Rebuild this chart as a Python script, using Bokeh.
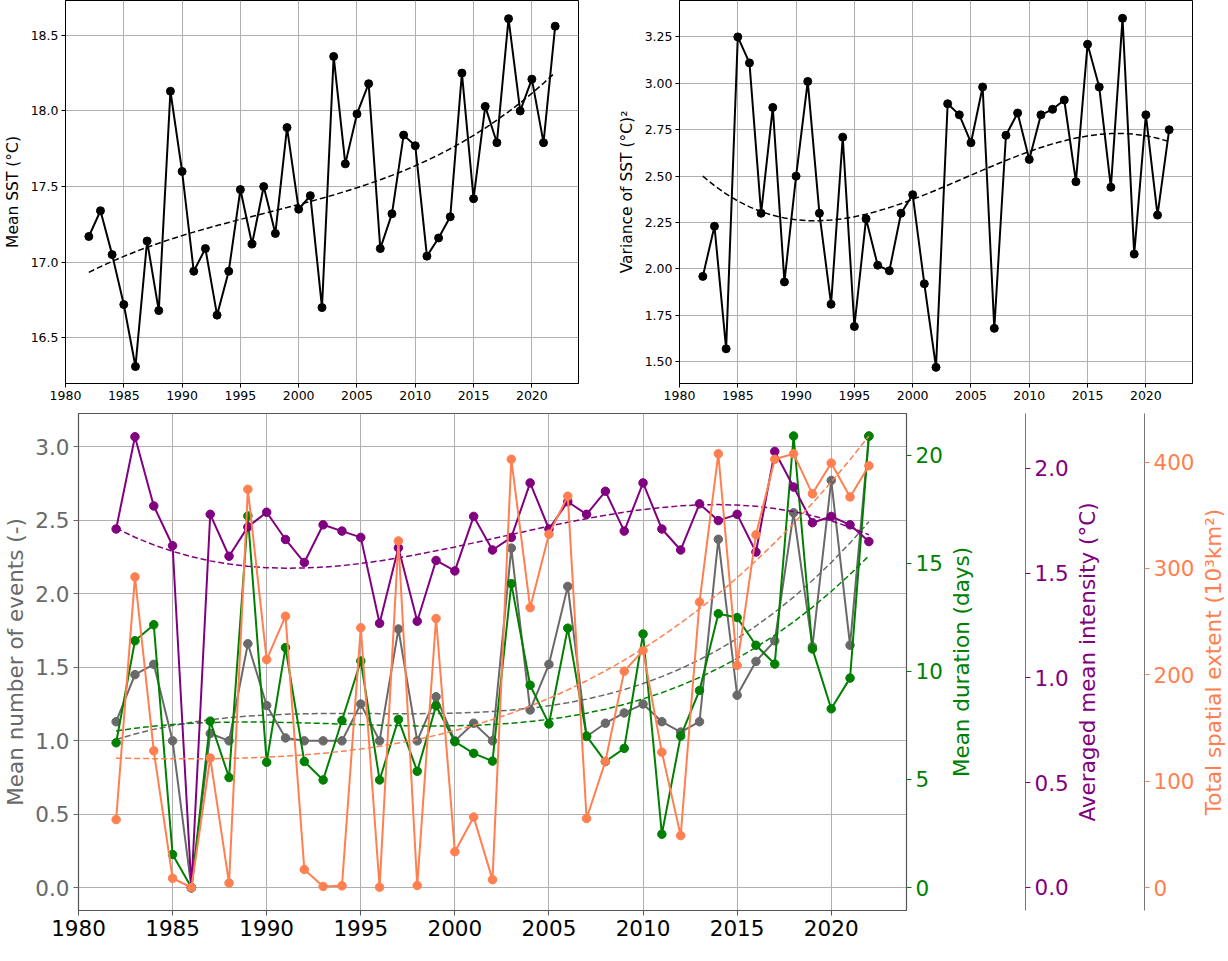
import numpy as np
from bokeh.plotting import figure
from bokeh.models import Range1d, LinearAxis, FixedTicker, PrintfTickFormatter
from bokeh.layouts import column, row
from bokeh.embed import file_html
from bokeh.resources import INLINE

years = list(range(1982, 2023))

mean_sst = [17.17, 17.34, 17.05, 16.72, 16.31, 17.14, 16.68, 18.13, 17.60, 16.94,
            17.09, 16.65, 16.94, 17.48, 17.12, 17.50, 17.19, 17.89, 17.35, 17.44,
            16.70, 18.36, 17.65, 17.98, 18.18, 17.09, 17.32, 17.84, 17.77, 17.04,
            17.16, 17.30, 18.25, 17.42, 18.03, 17.79, 18.61, 18.00, 18.21, 17.79, 18.56]

var_sst = [1.96, 2.23, 1.57, 3.25, 3.11, 2.30, 2.87, 1.93, 2.50, 3.01,
           2.30, 1.81, 2.71, 1.69, 2.27, 2.02, 1.99, 2.30, 2.40, 1.92,
           1.47, 2.89, 2.83, 2.68, 2.98, 1.68, 2.72, 2.84, 2.59, 2.83,
           2.86, 2.91, 2.47, 3.21, 2.98, 2.44, 3.35, 2.08, 2.83, 2.29, 2.75]

n_events = [1.13, 1.45, 1.52, 1.00, 0.00, 1.05, 1.00, 1.66, 1.24, 1.02,
            1.00, 1.00, 1.00, 1.25, 1.00, 1.76, 1.00, 1.30, 1.00, 1.12,
            1.00, 2.31, 1.21, 1.52, 2.05, 1.03, 1.12, 1.19, 1.25, 1.13,
            1.06, 1.13, 2.37, 1.31, 1.54, 1.68, 2.55, 1.64, 2.77, 1.65, 3.07]

duration = [6.70, 11.42, 12.16, 1.53, 0.00, 7.70, 5.09, 17.19, 5.80, 11.10,
            5.83, 4.98, 7.73, 10.48, 4.98, 7.78, 5.38, 8.41, 6.75, 6.21,
            5.85, 14.06, 9.36, 7.57, 12.00, 7.01, 5.83, 6.44, 11.73, 2.47,
            7.01, 9.12, 12.67, 12.49, 11.21, 10.34, 20.89, 11.04, 8.27, 9.69, 20.89]

intensity = [1.71, 2.15, 1.82, 1.63, 0.00, 1.78, 1.58, 1.72, 1.79, 1.66,
             1.55, 1.73, 1.70, 1.67, 1.26, 1.62, 1.27, 1.56, 1.51, 1.77,
             1.61, 1.67, 1.93, 1.71, 1.84, 1.78, 1.89, 1.70, 1.93, 1.71,
             1.61, 1.83, 1.75, 1.78, 1.60, 2.08, 1.91, 1.74, 1.77, 1.73, 1.65]

extent = [63.9, 292.0, 128.5, 8.7, 0.0, 121.8, 4.2, 374.3, 214.3, 255.1,
          17.0, 1.0, 1.6, 244.2, 0.3, 325.8, 1.9, 252.9, 33.7, 66.2,
          7.4, 402.6, 263.1, 332.2, 367.9, 64.9, 118.6, 203.4, 222.7, 127.2,
          48.8, 268.3, 407.7, 208.8, 331.6, 402.6, 407.7, 370.1, 399.0, 367.2, 396.5]

year_ticks = [1980, 1985, 1990, 1995, 2000, 2005, 2010, 2015, 2020]
events_ticks = [0.0, 0.5, 1.0, 1.5, 2.0, 2.5, 3.0]
duration_ticks = [0, 5, 10, 15, 20]
intensity_ticks = [0.0, 0.5, 1.0, 1.5, 2.0]
extent_ticks = [0, 100, 200, 300, 400]


def trend(vals, deg=3):
    x = np.array(years, dtype=float) - 2002.0
    c = np.polyfit(x, np.array(vals, dtype=float), deg)
    return list(np.polyval(c, x))


FONT = "DejaVu Sans"
GRID = "#b0b0b0"


def style_top(p, ylabel, yticks, fmt):
    p.outline_line_color = "black"
    p.outline_line_width = 1
    p.outline_line_alpha = 1
    p.xaxis.ticker = FixedTicker(ticks=year_ticks)
    p.yaxis.ticker = FixedTicker(ticks=yticks)
    p.yaxis.formatter = PrintfTickFormatter(format=fmt)
    for ax in (p.xaxis[0], p.yaxis[0]):
        ax.major_label_text_font = FONT
        ax.major_label_text_font_size = "12.5px"
        ax.major_label_text_color = "black"
        ax.axis_line_color = "black"
        ax.major_tick_line_color = "black"
        ax.major_tick_in = 0
        ax.major_tick_out = 4
        ax.minor_tick_line_color = None
        ax.major_label_standoff = 3
    p.yaxis.axis_label = ylabel
    p.yaxis.axis_label_text_font = FONT
    p.yaxis.axis_label_text_font_size = "15.5px"
    p.yaxis.axis_label_text_font_style = "normal"
    p.yaxis.axis_label_text_color = "black"
    p.yaxis.axis_label_standoff = 6
    p.grid.grid_line_color = GRID
    p.grid.grid_line_width = 1


p1 = figure(frame_width=513, frame_height=383,
            x_range=Range1d(1980, 2024), y_range=Range1d(16.198, 18.73),
            min_border_left=62, min_border_right=30, min_border_top=0, min_border_bottom=22,
            output_backend="svg", toolbar_location=None)
style_top(p1, "Mean SST (°C)", [16.5, 17.0, 17.5, 18.0, 18.5], "%.1f")
p1.line(years, trend(mean_sst), line_color="black", line_width=1.5, line_dash="6 3")
p1.line(years, mean_sst, line_color="black", line_width=2)
p1.scatter(years, mean_sst, size=8, color="black")

p2 = figure(frame_width=513, frame_height=383,
            x_range=Range1d(1980, 2024), y_range=Range1d(1.383, 3.446),
            min_border_left=71, min_border_right=15, min_border_top=0, min_border_bottom=22,
            output_backend="svg", toolbar_location=None)
style_top(p2, "Variance of SST (°C)²", [1.5, 1.75, 2.0, 2.25, 2.5, 2.75, 3.0, 3.25], "%.2f")
p2.line(years, trend(var_sst), line_color="black", line_width=1.5, line_dash="6 3")
p2.line(years, var_sst, line_color="black", line_width=2)
p2.scatter(years, var_sst, size=8, color="black")

# ---------------- bottom panel ----------------
GRAY = "dimgray"
GREEN = "green"
PURPLE = "purple"
ORANGE = "coral"
SPINE = "#555555"
SPINE2 = "#777777"
BIG = "21.5px"
FRAME_W = 828
FRAME_H = 497
B_TOP = 8
B_BOT = 34

dur_range = (-1.06, 21.93)
int_range = (-0.11, 2.261)
ext_range = (-21.6, 445.6)

p3 = figure(frame_width=FRAME_W, frame_height=FRAME_H,
            x_range=Range1d(1980, 2024), y_range=Range1d(-0.153, 3.225),
            min_border_left=73, min_border_right=38, min_border_top=B_TOP, min_border_bottom=B_BOT,
            output_backend="svg", toolbar_location=None)
p3.extra_y_ranges = {"dur": Range1d(*dur_range),
                     "int": Range1d(*int_range),
                     "ext": Range1d(*ext_range)}
p3.outline_line_color = SPINE
p3.outline_line_width = 1.2
p3.outline_line_alpha = 1
p3.grid.grid_line_color = GRID
p3.grid.grid_line_width = 1
p3.xaxis.ticker = FixedTicker(ticks=year_ticks)
p3.yaxis.ticker = FixedTicker(ticks=events_ticks)
p3.yaxis.formatter = PrintfTickFormatter(format="%.1f")


def style_axis(ax, color, label=None, standoff=4):
    ax.major_label_text_font = FONT
    ax.major_label_text_font_size = BIG
    ax.major_label_text_color = color
    ax.major_tick_line_color = color
    ax.major_tick_in = 0
    ax.major_tick_out = 5
    ax.minor_tick_line_color = None
    ax.major_label_standoff = 4
    if label is not None:
        ax.axis_label = label
        ax.axis_label_text_font = FONT
        ax.axis_label_text_font_size = BIG
        ax.axis_label_text_font_style = "normal"
        ax.axis_label_text_color = color
        ax.axis_label_standoff = standoff


style_axis(p3.xaxis[0], "black")
p3.xaxis.axis_line_color = SPINE
p3.xaxis.major_tick_line_color = SPINE
style_axis(p3.yaxis[0], GRAY, "Mean number of events (-)", 4)
p3.yaxis.axis_line_color = SPINE

ax_g = LinearAxis(y_range_name="dur", ticker=FixedTicker(ticks=duration_ticks),
                  formatter=PrintfTickFormatter(format="%d"))
style_axis(ax_g, GREEN)
ax_g.axis_line_color = SPINE
p3.add_layout(ax_g, "right")

# series
p3.line(years, n_events, line_color=GRAY, line_width=2)
p3.scatter(years, n_events, size=8.5, color=GRAY)
p3.line(years, trend(n_events), line_color=GRAY, line_width=1.5, line_dash="6 3")

p3.line(years, duration, line_color=GREEN, line_width=2, y_range_name="dur")
p3.scatter(years, duration, size=8.5, color=GREEN, y_range_name="dur")
p3.line(years, trend(duration), line_color=GREEN, line_width=1.5, line_dash="6 3", y_range_name="dur")

p3.line(years, intensity, line_color=PURPLE, line_width=2, y_range_name="int")
p3.scatter(years, intensity, size=8.5, color=PURPLE, y_range_name="int")
p3.line(years, trend(intensity), line_color=PURPLE, line_width=1.5, line_dash="6 3", y_range_name="int")

p3.line(years, extent, line_color=ORANGE, line_width=2, y_range_name="ext")
p3.scatter(years, extent, size=8.5, color=ORANGE, y_range_name="ext")
p3.line(years, trend(extent), line_color=ORANGE, line_width=1.5, line_dash="6 3", y_range_name="ext")


def side_strip(title, title_color, title_standoff, border_left, rng=None, ticks=None,
               fmt=None, tick_color=None, border_right=0):
    """Narrow strip holding one axis title (reading bottom-to-top) and, optionally,
    the next detached y-axis (spine + ticks) on its right edge."""
    yr = Range1d(*(rng if rng is not None else (0, 1)))
    f = figure(frame_width=1, frame_height=FRAME_H, x_range=Range1d(0, 1), y_range=yr,
               x_axis_location=None, y_axis_location=None,
               min_border_left=border_left, min_border_right=border_right,
               min_border_top=B_TOP, min_border_bottom=B_BOT,
               output_backend="svg", toolbar_location=None)
    f.outline_line_color = None
    f.grid.visible = False
    lab = LinearAxis(ticker=FixedTicker(ticks=[]), axis_line_color=None,
                     major_tick_line_color=None, minor_tick_line_color=None,
                     major_tick_out=0, major_tick_in=0, major_label_standoff=0,
                     axis_label=title, axis_label_text_font=FONT,
                     axis_label_text_font_size=BIG, axis_label_text_font_style="normal",
                     axis_label_text_color=title_color, axis_label_standoff=title_standoff)
    f.add_layout(lab, "left")
    if ticks is not None:
        ax = LinearAxis(ticker=FixedTicker(ticks=ticks),
                        formatter=PrintfTickFormatter(format=fmt))
        style_axis(ax, tick_color)
        ax.axis_line_color = SPINE2
        f.add_layout(ax, "right")
    return f


f1 = side_strip("Mean duration (days)", GREEN, 51, 77, int_range, intensity_ticks, "%.1f", PURPLE, 43)
f2 = side_strip("Averaged mean intensity (°C)", PURPLE, 44, 72, ext_range, extent_ticks, "%d", ORANGE, 50)
f3 = side_strip("Total spatial extent (10³km²)", ORANGE, 0, 26)

layout = column(row(p1, p2), row(p3, f1, f2, f3))
open("out.html", "w").write(file_html(layout, INLINE))
